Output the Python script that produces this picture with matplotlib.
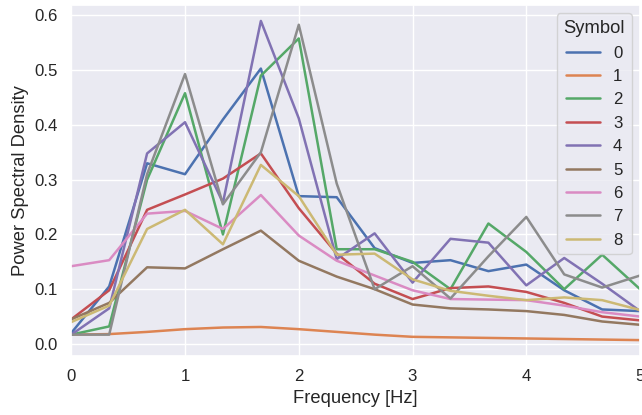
import numpy as np
import matplotlib
matplotlib.use('Agg')
import matplotlib.pyplot as plt
import seaborn as sns

sns.set_theme(font_scale=1.1)
plt.rcParams['font.family'] = ['Liberation Sans', 'DejaVu Sans']

# 频率点 0 ~ 5 Hz, 步长 1/3
freq = np.arange(16) / 3.0

psd_0 = [0.020, 0.105, 0.330, 0.310, 0.410, 0.503, 0.270, 0.268, 0.175, 0.148, 0.153, 0.133, 0.145, 0.098, 0.063, 0.060]
psd_1 = [0.017, 0.018, 0.022, 0.027, 0.030, 0.031, 0.027, 0.022, 0.017, 0.013, 0.012, 0.011, 0.010, 0.009, 0.008, 0.007]
psd_2 = [0.017, 0.032, 0.300, 0.458, 0.200, 0.490, 0.558, 0.173, 0.173, 0.150, 0.100, 0.220, 0.168, 0.100, 0.163, 0.100]
psd_3 = [0.045, 0.098, 0.245, 0.273, 0.302, 0.348, 0.248, 0.165, 0.110, 0.082, 0.102, 0.105, 0.095, 0.075, 0.050, 0.043]
psd_4 = [0.017, 0.065, 0.348, 0.405, 0.258, 0.590, 0.412, 0.155, 0.202, 0.112, 0.192, 0.185, 0.107, 0.157, 0.110, 0.060]
psd_5 = [0.045, 0.075, 0.140, 0.138, 0.173, 0.207, 0.152, 0.123, 0.100, 0.072, 0.065, 0.063, 0.060, 0.053, 0.041, 0.035]
psd_6 = [0.142, 0.153, 0.238, 0.243, 0.210, 0.272, 0.198, 0.152, 0.125, 0.098, 0.082, 0.081, 0.080, 0.070, 0.058, 0.050]
psd_7 = [0.017, 0.017, 0.310, 0.493, 0.255, 0.350, 0.583, 0.293, 0.100, 0.142, 0.083, 0.160, 0.232, 0.127, 0.103, 0.125]
psd_8 = [0.040, 0.070, 0.210, 0.245, 0.182, 0.327, 0.270, 0.163, 0.165, 0.118, 0.097, 0.088, 0.080, 0.085, 0.080, 0.062]

symbols = ['0', '1', '2', '3', '4', '5', '6', '7', '8']
all_psd = [psd_0, psd_1, psd_2, psd_3, psd_4, psd_5, psd_6, psd_7, psd_8]

fig, ax = plt.subplots(figsize=(6.42, 4.15), dpi=100)
for sym, psd in zip(symbols, all_psd):
    ax.plot(freq, psd, label=sym, lw=1.8)

ax.set_xlim(0, 5)
ax.set_xlabel('Frequency [Hz]')
ax.set_ylabel('Power Spectral Density')
ax.legend(title='Symbol', loc='upper right')
fig.subplots_adjust(left=0.111, right=0.997, top=0.988, bottom=0.142)
fig.savefig('out.png')
